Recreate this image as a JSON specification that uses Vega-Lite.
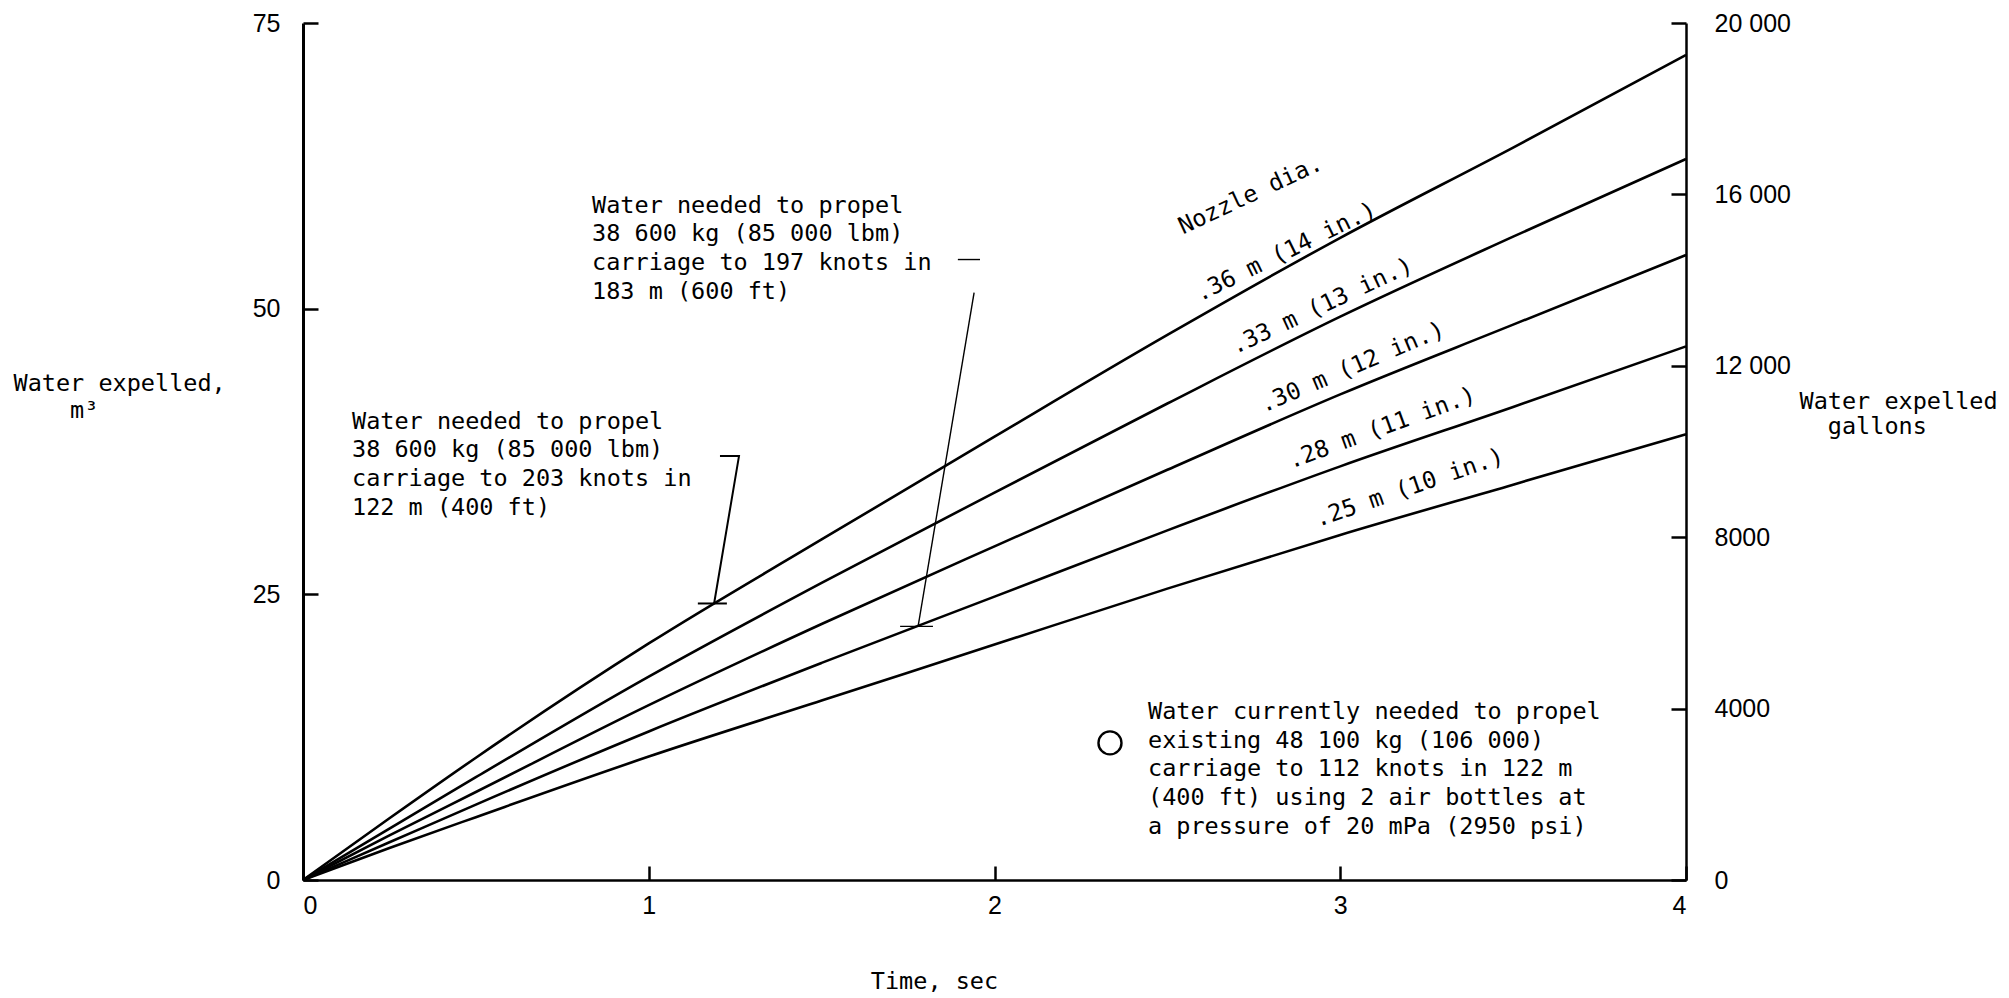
{
  "$schema": "https://vega.github.io/schema/vega-lite/v6.json",
  "width": 1383,
  "height": 857,
  "autosize": {"type": "none"},
  "padding": {"left": 303, "top": 23, "right": 323, "bottom": 118},
  "background": "white",
  "config": {
    "view": {"stroke": null},
    "axis": {
      "grid": false,
      "domainColor": "black",
      "domainWidth": 2.5,
      "tickColor": "black",
      "tickWidth": 2.5,
      "labelColor": "black",
      "labelFont": "Liberation Sans",
      "labelFontSize": 25,
      "titleColor": "black",
      "titleFont": "DejaVu Sans Mono",
      "titleFontSize": 23.5,
      "titleFontWeight": "normal"
    },
    "text": {"font": "DejaVu Sans Mono", "fontSize": 23.5, "color": "black"}
  },
  "datasets": {
    "curves": [
      {"dia": "0.36", "t": 0, "v": 0}, {"dia": "0.36", "t": 0.25, "v": 5.4}, {"dia": "0.36", "t": 0.5, "v": 10.7},
      {"dia": "0.36", "t": 1, "v": 20.7}, {"dia": "0.36", "t": 1.5, "v": 29.8}, {"dia": "0.36", "t": 2, "v": 38.8},
      {"dia": "0.36", "t": 2.5, "v": 47.7}, {"dia": "0.36", "t": 3, "v": 56.2}, {"dia": "0.36", "t": 3.5, "v": 64.1},
      {"dia": "0.36", "t": 4, "v": 72.2},
      {"dia": "0.33", "t": 0, "v": 0}, {"dia": "0.33", "t": 0.25, "v": 4.5}, {"dia": "0.33", "t": 0.5, "v": 9.0},
      {"dia": "0.33", "t": 1, "v": 17.8}, {"dia": "0.33", "t": 1.5, "v": 26.0}, {"dia": "0.33", "t": 2, "v": 33.9},
      {"dia": "0.33", "t": 2.5, "v": 41.7}, {"dia": "0.33", "t": 3, "v": 49.3}, {"dia": "0.33", "t": 3.5, "v": 56.3},
      {"dia": "0.33", "t": 4, "v": 63.1},
      {"dia": "0.30", "t": 0, "v": 0}, {"dia": "0.30", "t": 0.25, "v": 3.9}, {"dia": "0.30", "t": 0.5, "v": 7.7},
      {"dia": "0.30", "t": 1, "v": 15.3}, {"dia": "0.30", "t": 1.5, "v": 22.4}, {"dia": "0.30", "t": 2, "v": 29.2},
      {"dia": "0.30", "t": 2.5, "v": 35.9}, {"dia": "0.30", "t": 3, "v": 42.5}, {"dia": "0.30", "t": 3.5, "v": 48.6},
      {"dia": "0.30", "t": 4, "v": 54.7},
      {"dia": "0.28", "t": 0, "v": 0}, {"dia": "0.28", "t": 0.25, "v": 3.3}, {"dia": "0.28", "t": 0.5, "v": 6.6},
      {"dia": "0.28", "t": 1, "v": 13.0}, {"dia": "0.28", "t": 1.5, "v": 19.0}, {"dia": "0.28", "t": 2, "v": 24.8},
      {"dia": "0.28", "t": 2.5, "v": 30.6}, {"dia": "0.28", "t": 3, "v": 36.2}, {"dia": "0.28", "t": 3.5, "v": 41.4},
      {"dia": "0.28", "t": 4, "v": 46.7},
      {"dia": "0.25", "t": 0, "v": 0}, {"dia": "0.25", "t": 0.25, "v": 2.8}, {"dia": "0.25", "t": 0.5, "v": 5.5},
      {"dia": "0.25", "t": 1, "v": 10.8}, {"dia": "0.25", "t": 1.5, "v": 15.7}, {"dia": "0.25", "t": 2, "v": 20.6},
      {"dia": "0.25", "t": 2.5, "v": 25.5}, {"dia": "0.25", "t": 3, "v": 30.2}, {"dia": "0.25", "t": 3.5, "v": 34.6},
      {"dia": "0.25", "t": 4, "v": 39.0}
    ],
    "leaders": [
      {"group": "run400", "seg": "a", "ord": 1, "t": 1.206, "v": 37.1},
      {"group": "run400", "seg": "a", "ord": 2, "t": 1.261, "v": 37.1},
      {"group": "run400", "seg": "a", "ord": 3, "t": 1.189, "v": 24.2},
      {"group": "run400", "seg": "b", "ord": 1, "t": 1.142, "v": 24.2},
      {"group": "run400", "seg": "b", "ord": 2, "t": 1.226, "v": 24.2},
      {"group": "run600", "seg": "c", "ord": 1, "t": 1.894, "v": 54.3},
      {"group": "run600", "seg": "c", "ord": 2, "t": 1.958, "v": 54.3},
      {"group": "run600", "seg": "d", "ord": 1, "t": 1.941, "v": 51.4},
      {"group": "run600", "seg": "d", "ord": 2, "t": 1.779, "v": 22.2},
      {"group": "run600", "seg": "e", "ord": 1, "t": 1.727, "v": 22.2},
      {"group": "run600", "seg": "e", "ord": 2, "t": 1.822, "v": 22.2}
    ],
    "current": [
      {"t": 2.334, "v": 12.0}
    ],
    "notes": [
      {"t": 0.1417, "v": 39.5, "text": "Water needed to propel\n38 600 kg (85 000 lbm)\ncarriage to 203 knots in\n122 m (400 ft)"},
      {"t": 0.836, "v": 58.4, "text": "Water needed to propel\n38 600 kg (85 000 lbm)\ncarriage to 197 knots in\n183 m (600 ft)"},
      {"t": 2.444, "v": 14.1, "text": "Water currently needed to propel\nexisting 48 100 kg (106 000)\ncarriage to 112 knots in 122 m\n(400 ft) using 2 air bottles at\na pressure of 20 mPa (2950 psi)"}
    ],
    "nozzleLabels": [
      {"key": "head", "t": 2.545, "v": 56.5, "text": "Nozzle dia."},
      {"key": "0.36", "t": 2.594, "v": 50.6, "text": ".36 m (14 in.)"},
      {"key": "0.33", "t": 2.696, "v": 46.0, "text": ".33 m (13 in.)"},
      {"key": "0.30", "t": 2.779, "v": 40.9, "text": ".30 m (12 in.)"},
      {"key": "0.28", "t": 2.858, "v": 36.0, "text": ".28 m (11 in.)"},
      {"key": "0.25", "t": 2.936, "v": 30.9, "text": ".25 m (10 in.)"}
    ]
  },
  "encoding": {
    "x": {
      "field": "t", "type": "quantitative",
      "scale": {"domain": [0, 4], "nice": false},
      "axis": {
        "values": [0, 1, 2, 3, 4], "tickSize": -14, "labelPadding": 27,
        "title": "Time, sec", "titleX": 631, "titleY": 108, "titleBaseline": "alphabetic"
      }
    }
  },
  "layer": [
    {
      "data": {"name": "curves"},
      "mark": {"type": "line", "color": "black", "strokeWidth": 2.6, "interpolate": "monotone"},
      "encoding": {
        "y": {
          "field": "v", "type": "quantitative",
          "scale": {"domain": [0, 75], "nice": false},
          "axis": {
            "orient": "left", "values": [0, 25, 50, 75], "tickSize": -15, "labelPadding": 38,
            "domainWidth": 3,
            "title": ["Water expelled,", "\u200b\u00a0\u00a0\u00a0\u00a0m³"], "titleAngle": 0, "titleAlign": "left",
            "titleBaseline": "alphabetic", "titleX": -290, "titleY": 367, "titleLineHeight": 27
          }
        },
        "detail": {"field": "dia"}
      }
    },
    {
      "data": {"name": "current"},
      "mark": {"type": "point", "shape": "circle", "size": 530, "filled": false, "color": "black", "opacity": 1, "strokeWidth": 2.4},
      "encoding": {
        "y": {
          "field": "v", "type": "quantitative",
          "axis": {
            "orient": "right", "values": [0, 15, 30, 45, 60, 75], "tickSize": -15, "labelPadding": 43,
            "labelExpr": "datum.value > 37.5 ? format(datum.value * 800 / 3000, 'd') + ' 000' : format(datum.value * 800 / 3, 'd')",
            "title": ["Water expelled", "\u200b\u00a0\u00a0gallons"], "titleAngle": 0, "titleAlign": "left",
            "titleBaseline": "alphabetic", "titleX": 113, "titleY": 385, "titleLineHeight": 25
          }
        }
      }
    },
    {
      "data": {"name": "leaders"},
      "transform": [{"filter": "datum.group === 'run400'"}],
      "mark": {"type": "line", "color": "black", "strokeWidth": 2},
      "encoding": {
        "y": {"field": "v", "type": "quantitative", "axis": null},
        "detail": {"field": "seg"},
        "order": {"field": "ord"}
      }
    },
    {
      "data": {"name": "leaders"},
      "transform": [{"filter": "datum.group === 'run600'"}],
      "mark": {"type": "line", "color": "black", "strokeWidth": 1.4},
      "encoding": {
        "y": {"field": "v", "type": "quantitative", "axis": null},
        "detail": {"field": "seg"},
        "order": {"field": "ord"}
      }
    },
    {
      "data": {"name": "notes"},
      "mark": {"type": "text", "align": "left", "baseline": "alphabetic", "lineBreak": "\n", "lineHeight": 28.7},
      "encoding": {
        "y": {"field": "v", "type": "quantitative", "axis": null},
        "text": {"field": "text"}
      }
    },
    {
      "data": {"name": "nozzleLabels"},
      "transform": [{"filter": "datum.key === 'head'"}],
      "mark": {"type": "text", "align": "left", "baseline": "alphabetic", "angle": 335},
      "encoding": {
        "y": {"field": "v", "type": "quantitative", "axis": null},
        "text": {"field": "text"}
      }
    },
    {
      "data": {"name": "nozzleLabels"},
      "transform": [{"filter": "datum.key === '0.36'"}],
      "mark": {"type": "text", "align": "left", "baseline": "alphabetic", "angle": 334},
      "encoding": {
        "y": {"field": "v", "type": "quantitative", "axis": null},
        "text": {"field": "text"}
      }
    },
    {
      "data": {"name": "nozzleLabels"},
      "transform": [{"filter": "datum.key === '0.33'"}],
      "mark": {"type": "text", "align": "left", "baseline": "alphabetic", "angle": 335},
      "encoding": {
        "y": {"field": "v", "type": "quantitative", "axis": null},
        "text": {"field": "text"}
      }
    },
    {
      "data": {"name": "nozzleLabels"},
      "transform": [{"filter": "datum.key === '0.30'"}],
      "mark": {"type": "text", "align": "left", "baseline": "alphabetic", "angle": 337},
      "encoding": {
        "y": {"field": "v", "type": "quantitative", "axis": null},
        "text": {"field": "text"}
      }
    },
    {
      "data": {"name": "nozzleLabels"},
      "transform": [{"filter": "datum.key === '0.28'"}],
      "mark": {"type": "text", "align": "left", "baseline": "alphabetic", "angle": 340},
      "encoding": {
        "y": {"field": "v", "type": "quantitative", "axis": null},
        "text": {"field": "text"}
      }
    },
    {
      "data": {"name": "nozzleLabels"},
      "transform": [{"filter": "datum.key === '0.25'"}],
      "mark": {"type": "text", "align": "left", "baseline": "alphabetic", "angle": 341},
      "encoding": {
        "y": {"field": "v", "type": "quantitative", "axis": null},
        "text": {"field": "text"}
      }
    }
  ],
  "resolve": {"axis": {"y": "independent"}}
}
